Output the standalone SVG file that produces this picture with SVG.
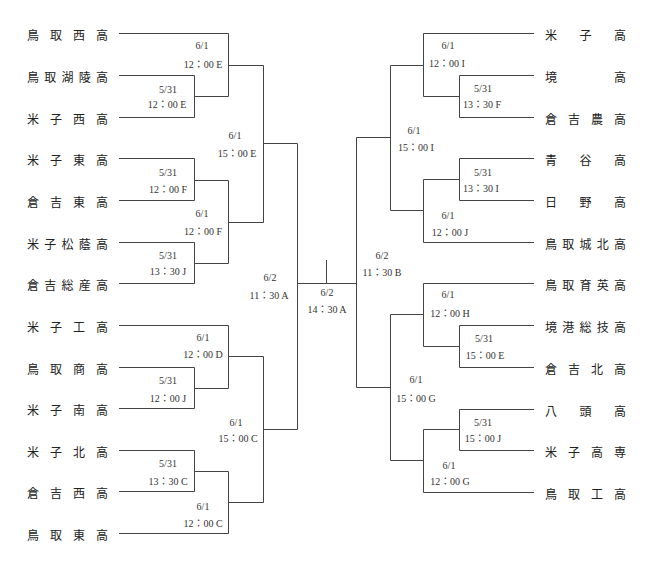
<svg xmlns="http://www.w3.org/2000/svg" width="654" height="568" viewBox="0 0 654 568">
<style>
.ln{fill:none;stroke:#444;stroke-width:1}
.t{font-family:"Noto Sans CJK JP","Noto Sans CJK SC",sans-serif;font-size:12px;fill:#222;text-anchor:middle}
.d{font-family:"Liberation Serif","Noto Sans CJK JP",serif;font-size:10px;fill:#333;text-anchor:middle}
</style>
<rect width="654" height="568" fill="#fff"/>
<g id="connectors" class="ln">
<path d="M119 75.5H194.5V117.5H119M194.5 96.5H228.5"/>
<path d="M119 33.5H228.5V96.5M228.5 65.5H263.5"/>
<path d="M119 158.5H194.5V200.5H119M194.5 180.5H228.5"/>
<path d="M119 242.5H194.5V283.5H119M194.5 263.5H228.5"/>
<path d="M228.5 180.5V263.5M228.5 222.5H263.5"/>
<path d="M263.5 65.5V222.5M263.5 143.5H297.5"/>
<path d="M119 367.5H194.5V408.5H119M194.5 388.5H228.5"/>
<path d="M119 325.5H228.5V388.5M228.5 356.5H263.5"/>
<path d="M119 450.5H194.5V491.5H119M194.5 471.5H228.5"/>
<path d="M119 533.5H228.5V471.5M228.5 502.5H263.5"/>
<path d="M263.5 356.5V502.5M263.5 429.5H297.5"/>
<path d="M297.5 143.5V429.5M297.5 283.5H356.5"/>
<path d="M326.5 260V283.5"/>
<path d="M356.5 137.5V387.5"/>
<path d="M534 75.5H459.5V117.5H534M459.5 96.5H423.5"/>
<path d="M534 33.5H423.5V96.5M423.5 65.5H390.5"/>
<path d="M534 158.5H459.5V200.5H534M459.5 179.5H423.5"/>
<path d="M534 242.5H423.5V179.5M423.5 210.5H390.5"/>
<path d="M390.5 65.5V210.5M390.5 137.5H356.5"/>
<path d="M534 325.5H459.5V367.5H534M459.5 346.5H423.5"/>
<path d="M534 283.5H423.5V346.5M423.5 314.5H390.5"/>
<path d="M534 409.5H459.5V450.5H534M459.5 429.5H423.5"/>
<path d="M534 492.5H423.5V429.5M423.5 460.5H390.5"/>
<path d="M390.5 314.5V460.5M390.5 387.5H356.5"/>
</g>
<g id="teams-left" class="t">
<g id="team-l1"><text x="33 56 79 102" y="39.8">鳥取西高</text></g>
<g id="team-l2"><text x="33 50.25 67.5 84.75 102" y="81.8">鳥取湖陵高</text></g>
<g id="team-l3"><text x="33 56 79 102" y="123.8">米子西高</text></g>
<g id="team-l4"><text x="33 56 79 102" y="164.8">米子東高</text></g>
<g id="team-l5"><text x="33 56 79 102" y="206.8">倉吉東高</text></g>
<g id="team-l6"><text x="33 50.25 67.5 84.75 102" y="248.8">米子松蔭高</text></g>
<g id="team-l7"><text x="33 50.25 67.5 84.75 102" y="289.8">倉吉総産高</text></g>
<g id="team-l8"><text x="33 56 79 102" y="331.8">米子工高</text></g>
<g id="team-l9"><text x="33 56 79 102" y="373.8">鳥取商高</text></g>
<g id="team-l10"><text x="33 56 79 102" y="414.8">米子南高</text></g>
<g id="team-l11"><text x="33 56 79 102" y="456.8">米子北高</text></g>
<g id="team-l12"><text x="33 56 79 102" y="497.8">倉吉西高</text></g>
<g id="team-l13"><text x="33 56 79 102" y="539.8">鳥取東高</text></g>
</g>
<g id="teams-right" class="t">
<g id="team-r1"><text x="551 585.5 620" y="39.8">米子高</text></g>
<g id="team-r2"><text x="551 620" y="81.8">境高</text></g>
<g id="team-r3"><text x="551 574 597 620" y="123.8">倉吉農高</text></g>
<g id="team-r4"><text x="551 585.5 620" y="164.8">青谷高</text></g>
<g id="team-r5"><text x="551 585.5 620" y="206.8">日野高</text></g>
<g id="team-r6"><text x="551 568.25 585.5 602.75 620" y="248.8">鳥取城北高</text></g>
<g id="team-r7"><text x="551 568.25 585.5 602.75 620" y="289.8">鳥取育英高</text></g>
<g id="team-r8"><text x="551 568.25 585.5 602.75 620" y="331.8">境港総技高</text></g>
<g id="team-r9"><text x="551 574 597 620" y="373.8">倉吉北高</text></g>
<g id="team-r10"><text x="551 585.5 620" y="415.8">八頭高</text></g>
<g id="team-r11"><text x="551 574 597 620" y="456.8">米子高専</text></g>
<g id="team-r12"><text x="551 574 597 620" y="498.8">鳥取工高</text></g>
</g>
<g id="matches" class="d">
<g id="m-a"><text x="202" y="48.5">6/1</text><text x="203" y="67.5">12：00 E</text></g>
<g id="m-b"><text x="168" y="92.5">5/31</text><text x="167" y="107.5">12：00 E</text></g>
<g id="m-c"><text x="235" y="138.5">6/1</text><text x="237" y="156.5">15：00 E</text></g>
<g id="m-d"><text x="168" y="175.5">5/31</text><text x="168" y="192.5">12：00 F</text></g>
<g id="m-e"><text x="202" y="216.5">6/1</text><text x="203" y="234.5">12：00 F</text></g>
<g id="m-f"><text x="168" y="258.5">5/31</text><text x="168" y="274.5">13：30 J</text></g>
<g id="m-g"><text x="270" y="280.5">6/2</text><text x="269" y="298.5">11：30 A</text></g>
<g id="m-h"><text x="203" y="340.5">6/1</text><text x="203" y="357.5">12：00 D</text></g>
<g id="m-i"><text x="168" y="383.5">5/31</text><text x="168" y="401.5">12：00 J</text></g>
<g id="m-j"><text x="236" y="425.5">6/1</text><text x="238" y="441.5">15：00 C</text></g>
<g id="m-k"><text x="168" y="466.5">5/31</text><text x="168" y="484.5">13：30 C</text></g>
<g id="m-l"><text x="203" y="509.5">6/1</text><text x="203" y="526.5">12：00 C</text></g>
<g id="m-final"><text x="327" y="295.5">6/2</text><text x="327" y="312.5">14：30 A</text></g>
<g id="m-m"><text x="382" y="258.5">6/2</text><text x="382" y="275.5">11：30 B</text></g>
<g id="m-n"><text x="448" y="48.5">6/1</text><text x="447" y="66.5">12：00 I</text></g>
<g id="m-o"><text x="483" y="91.5">5/31</text><text x="482" y="107.5">13：30 F</text></g>
<g id="m-p"><text x="414" y="133.5">6/1</text><text x="416" y="150.5">15：00 I</text></g>
<g id="m-q"><text x="483" y="175.5">5/31</text><text x="481" y="191.5">13：30 I</text></g>
<g id="m-r"><text x="448" y="218.5">6/1</text><text x="450" y="235.5">12：00 J</text></g>
<g id="m-s"><text x="448" y="297.5">6/1</text><text x="450" y="316.5">12：00 H</text></g>
<g id="m-t"><text x="484" y="341.5">5/31</text><text x="485" y="358.5">15：00 E</text></g>
<g id="m-u"><text x="416" y="382.5">6/1</text><text x="416" y="401.5">15：00 G</text></g>
<g id="m-v"><text x="483" y="425.5">5/31</text><text x="483" y="441.5">15：00 J</text></g>
<g id="m-w"><text x="449" y="468.5">6/1</text><text x="450" y="484.5">12：00 G</text></g>
</g>
</svg>
